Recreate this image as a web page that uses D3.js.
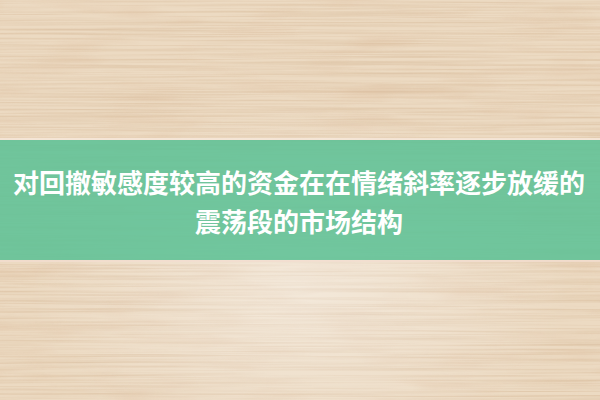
<!DOCTYPE html>
<html><head><meta charset="utf-8">
<script src="https://cdn.jsdelivr.net/npm/d3@7"></script>
<style>html,body{margin:0;padding:0;background:#ead8c0;}svg{display:block;}</style>
</head><body>
<script>
const titleLines = ["对回撤敏感度较高的资金在在情绪斜率逐步放缓的", "震荡段的市场结构"];
const lineIndex = [0, 1];
const W = 600, H = 400;

const svg = d3.select("body").append("svg").attr("width", W).attr("height", H);
const defs = svg.append("defs");

// fine wood grain filter
const f = defs.append("filter").attr("id","wood").attr("x",0).attr("y",0).attr("width","100%").attr("height","100%");
f.append("feTurbulence").attr("type","fractalNoise").attr("baseFrequency","0.004 0.45").attr("numOctaves",4).attr("seed",7).attr("result","n");
f.append("feColorMatrix").attr("in","n").attr("type","matrix")
  .attr("values","0 0 0 0 0.62  0 0 0 0 0.42  0 0 0 0 0.25  -2.2 0 0 0 1.35");

const f2 = defs.append("filter").attr("id","knots").attr("x",0).attr("y",0).attr("width","100%").attr("height","100%");
f2.append("feTurbulence").attr("type","fractalNoise").attr("baseFrequency","0.01 0.06").attr("numOctaves",3).attr("seed",3).attr("result","n");
f2.append("feColorMatrix").attr("in","n").attr("type","matrix")
  .attr("values","0 0 0 0 0.72  0 0 0 0 0.50  0 0 0 0 0.33  -2.6 0 0 0 1.35");
const rg = defs.append("radialGradient").attr("id","glow").attr("cx","0.5").attr("cy","0.72").attr("r","0.45");
rg.append("stop").attr("offset","0").attr("stop-color","#fff").attr("stop-opacity",0.4);
rg.append("stop").attr("offset","1").attr("stop-color","#fff").attr("stop-opacity",0);

svg.append("rect").attr("width",W).attr("height",H).attr("fill","#ecdac2");
svg.append("rect").attr("width",W).attr("height",H).attr("fill","#000").attr("filter","url(#wood)").attr("opacity",0.4);
svg.append("rect").attr("width",W).attr("height",H).attr("fill","#000").attr("filter","url(#knots)").attr("opacity",0.3);
svg.append("rect").attr("width",W).attr("height",H).attr("fill","url(#glow)");

// band
const bandTop = 140, bandBottom = 260;
svg.append("rect").attr("x",0).attr("y",bandTop-2).attr("width",W).attr("height",2).attr("fill","#f6e8dc").attr("opacity",0.8);
svg.append("rect").attr("x",0).attr("y",bandBottom).attr("width",W).attr("height",2).attr("fill","#f3ddd0").attr("opacity",0.8);
svg.append("rect").attr("x",0).attr("y",bandTop).attr("width",W).attr("height",bandBottom-bandTop)
  .attr("fill","#5ec196").attr("opacity",0.88);

const y = d3.scalePoint().domain(lineIndex).range([181, 220]);
svg.append("g").selectAll("text").data(titleLines).join("text")
  .attr("x", 299)
  .attr("y", (d,i)=>y(i))
  .attr("text-anchor","middle")
  .attr("dominant-baseline","central")
  .attr("font-family","'Noto Sans CJK SC', sans-serif")
  .attr("font-weight","bold")
  .attr("font-size",26)
  .attr("fill","#ffffff")
  .text(d=>d);
</script>
</body></html>
